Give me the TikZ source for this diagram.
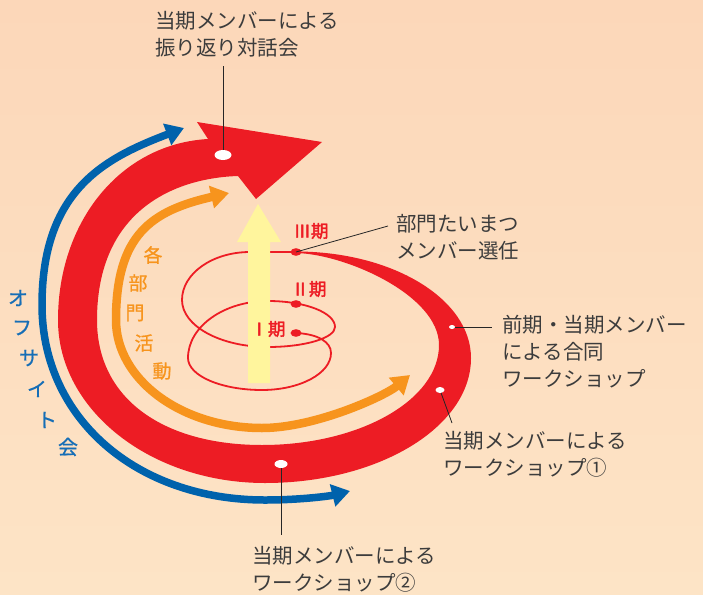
\documentclass[tikz,border=0pt]{standalone}
\usepackage{fontspec}
\newfontfamily\jp{Noto Sans CJK JP}
\newfontfamily\jpm[FakeBold=0.8]{Noto Sans CJK JP}
\newfontfamily\jpb[FakeBold=2]{Noto Sans CJK JP}
\usetikzlibrary{arrows.meta,shapes.geometric}
\definecolor{bgtop}{RGB}{252,215,185}
\definecolor{bgbot}{RGB}{253,228,198}
\definecolor{bandred}{RGB}{237,28,36}
\definecolor{offblue}{RGB}{0,98,172}
\definecolor{offbluetxt}{RGB}{22,110,182}
\definecolor{deporange}{RGB}{247,148,29}
\definecolor{upyellow}{RGB}{255,245,157}
\definecolor{txtgray}{RGB}{60,60,60}
\tikzset{
  dblarrow/.style={line width=#1, arrows={Triangle[width=22pt,length=18pt]-Triangle[width=22pt,length=18pt]}},
  jtext/.style={font=\jp\fontsize{20.5}{27}\selectfont, text=txtgray, align=left, anchor=west, inner sep=0pt},
  vblue/.style={font=\jpm\fontsize{20}{20}\selectfont, text=offbluetxt, inner sep=0pt},
  vorange/.style={font=\jpm\fontsize{19}{19}\selectfont, text=deporange, inner sep=0pt},
  period/.style={font=\jpb\fontsize{17.5}{17.5}\selectfont, text=bandred, inner sep=0pt},
  leader/.style={draw=black!85, line width=0.8pt},
  wdot/.style={fill=white, draw=none, ellipse, inner sep=0pt},
  rdot/.style={fill=bandred},
}
\begin{document}
\begin{tikzpicture}[x=1pt,y=-1pt]
\shade[top color=bgtop, bottom color=bgbot] (0,0) rectangle (703,594);
\useasboundingbox (0,0) rectangle (703,594);

% blue arc (offsite)
\draw[offblue, dblarrow=7.5pt] (184,128) .. controls (104.6,158.3) and (42,190) .. (42,305)
  .. controls (42,418) and (136,500) .. (265,500)
  .. controls (300,500) and (330,496) .. (350,491);

% orange arc (department activities)
\draw[deporange, dblarrow=8.5pt] (229,193) .. controls (151,210.8) and (116,235) .. (116,320)
  .. controls (116,379.6) and (181.4,428) .. (262,428)
  .. controls (315,428) and (385,396) .. (410,375);

% red band
\fill[bandred] (296,251.5) .. controls (392.6,251.5) and (471,299) .. (471,358)
  .. controls (471,427) and (378.7,483) .. (265,483)
  .. controls (150.7,483) and (58,410) .. (58,320)
  .. controls (58,222) and (120,144) .. (208,139)
  -- (197,122) -- (322,142) -- (256,199) -- (238,176)
  .. controls (175,178) and (97,210) .. (97,320)
  .. controls (97,400) and (165,445) .. (262,445)
  .. controls (359.7,445) and (439,400) .. (439,345)
  .. controls (439,295) and (345,254) .. (296,253) -- cycle;

% thin spiral
\draw[bandred, line width=1.8pt] (296,333) .. controls (318,334) and (331,342) .. (331,353)
  .. controls (331,373.4) and (300,390) .. (262,390)
  .. controls (221,390) and (188,375.7) .. (188,358)
  .. controls (188,326.5) and (224,301) .. (268,301)
  .. controls (305,301) and (335,312.6) .. (335,327)
  .. controls (335,338) and (305,347) .. (268,347)
  .. controls (220.5,347) and (182,326) .. (182,300)
  .. controls (182,273.5) and (212.5,252) .. (250,252)
  -- (296,252);

% yellow arrow
\fill[upyellow] (248,383) -- (248,242) -- (237,242) -- (258,204) -- (281,242) -- (270,242) -- (270,383) -- cycle;

% spiral dots
\fill[rdot] (296,333) ellipse [x radius=5.5pt, y radius=3.8pt];
\fill[rdot] (296,304) ellipse [x radius=5.5pt, y radius=3.8pt];
\fill[rdot] (296,252) ellipse [x radius=5.5pt, y radius=3.8pt];
\coordinate (d1) at (296,333);
\coordinate (d3) at (296,252);

% period labels
\node[period] (p3) at (311,231) {Ⅲ期};
\node[period] (p2) at (309,289) {Ⅱ期};
\node[period] (p1) at (268,329) {Ⅰ期};

% white dot positions
\coordinate (w1) at (223,155);
\coordinate (w2) at (452,327);
\coordinate (w3) at (440,390);
\coordinate (w4) at (281,464);

% texts
\node[jtext] (t1) at (155,34) {当期メンバーによる\\振り返り対話会};
\node[jtext] (t2) at (396,237) {部門たいまつ\\メンバー選任};
\node[jtext] (t3) at (502,352) {前期・当期メンバー\\による合同\\ワークショップ};
\node[jtext] (t4) at (443,454) {当期メンバーによる\\ワークショップ①};
\node[jtext] (t5) at (252,569) {当期メンバーによる\\ワークショップ②};

% leader lines
\coordinate (l1) at (223,66);
\coordinate (l2) at (388,226);
\coordinate (l3) at (492,327);
\coordinate (l4) at (452,423);
\coordinate (l5) at (281,535);
\draw[leader] (w1) -- (l1);
\draw[leader] (d3) -- (l2);
\draw[leader] (w2) -- (l3);
\draw[leader] (w3) -- (l4);
\draw[leader] (w4) -- (l5);
\node[wdot, minimum width=17pt, minimum height=10pt] (wd1) at (w1) {};
\node[wdot, minimum width=6pt, minimum height=4pt] (wd2) at (w2) {};
\node[wdot, minimum width=9pt, minimum height=6pt] (wd3) at (w3) {};
\node[wdot, minimum width=13pt, minimum height=8pt] (wd4) at (w4) {};

% vertical offsite label
\node[vblue] (o1) at (18,298) {オ};
\node[vblue] (o2) at (22,328) {フ};
\node[vblue] (o3) at (29,358) {サ};
\node[vblue] (o4) at (37,389) {イ};
\node[vblue] (o5) at (47,420) {ト};
\node[vblue] (o6) at (68,447) {会};

% department activity label
\node[vorange] (b1) at (153,255) {各};
\node[vorange] (b2) at (138,283) {部};
\node[vorange] (b3) at (135,313) {門};
\node[vorange] (b4) at (144,343) {活};
\node[vorange] (b5) at (162,371) {動};
\end{tikzpicture}
\end{document}
